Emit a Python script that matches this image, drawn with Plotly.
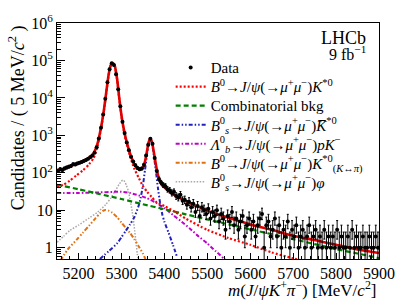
import math
import plotly.graph_objects as go

# ---------------- data ----------------
bin_low = 5150.0
bin_width = 5.0
data_counts = [
    112, 125, 118, 131, 138, 146, 152, 170, 168, 178,
    186, 195, 208, 220, 238, 262, 290, 345, 480, 820,
    1600, 3600, 9500, 26000, 58000, 84000, 76000, 43000, 17000, 6000,
    2300, 1150, 640, 400, 270, 200, 160, 135, 125, 130,
    165, 290, 560, 810, 600, 250, 112, 68, 55, 47,
    44, 36, 34, 29, 31, 24, 22, 26, 18, 19,
    14, 17, 12, 15, 9, 13, 7, 12, 10, 8,
    11, 6, 9, 7, 10, 5, 8, 6, 3, 7,
    5, 9, 4, 6, 3, 5, 7, 2, 4, 6,
    3, 5, 2, 4, 6, 8, 1, 4, 5, 2,
    3, 6, 2, 4, 1, 3, 2, 5, 1, 3,
    2, 4, 1, 2, 3, 1, 2, 4, 1, 2,
    3, 1, 2, 1, 3, 1, 2, 1, 2, 1,
    3, 1, 2, 1, 1, 2, 1, 3, 1, 2,
    1, 1, 2, 1, 1, 2, 1, 1, 2, 1,
]

total_mass = [5150, 5165, 5180, 5195, 5210, 5225, 5235, 5240, 5245, 5250, 5255, 5260, 5265, 5270, 5275,
              5279.5, 5284, 5290, 5295, 5300, 5305, 5310, 5315, 5320, 5325, 5330, 5335, 5340, 5345, 5350,
              5355, 5360, 5363, 5367, 5371, 5375, 5380, 5385, 5390, 5395, 5400, 5410, 5420, 5430, 5450,
              5475, 5500, 5550, 5600, 5650, 5700, 5750, 5800, 5850, 5900]
total_fit = [118, 128, 150, 175, 205, 255, 330, 430, 640, 1150, 2300, 5500, 15000, 40000, 74000,
             85000, 75000, 32000, 10000, 3500, 1600, 850, 520, 330, 230, 170, 140, 125, 125, 135,
             200, 400, 630, 840, 680, 390, 175, 88, 58, 47, 41, 33, 27, 23, 17.5,
             13, 9.8, 6.3, 4.2, 3.0, 2.1, 1.6, 1.2, 0.9, 0.72]

sig_mass = [5150, 5165, 5180, 5195, 5210, 5225, 5235, 5240, 5245, 5250, 5255, 5260, 5265, 5270, 5275,
            5279.5, 5284, 5290, 5295, 5300, 5305, 5310, 5320, 5330, 5340, 5350, 5360, 5370, 5380, 5400,
            5425, 5450, 5500, 5550, 5600, 5650, 5700, 5750]
sig_fit = [42, 48, 62, 85, 115, 170, 245, 340, 550, 1050, 2200, 5200, 14500, 39000, 73000,
           84000, 74000, 31000, 9500, 3300, 1450, 750, 280, 130, 75, 45, 31, 23, 17, 13,
           9, 6, 3, 1.8, 1.2, 0.75, 0.52, 0.38]

comb_mass = [5150, 5200, 5250, 5300, 5350, 5400, 5450, 5500, 5550, 5600, 5650, 5700, 5750, 5800, 5850, 5900]
comb_fit = [48, 36.5, 27, 20, 14.5, 10.7, 7.8, 5.7, 4.2, 3.1, 2.3, 1.7, 1.25, 0.92, 0.7, 0.53]

bs_mass = [5250, 5270, 5290, 5300, 5310, 5320, 5330, 5340, 5345, 5350, 5355, 5360, 5363, 5367, 5371,
           5375, 5380, 5385, 5390, 5395, 5400, 5410, 5420, 5430]
bs_fit = [0.5, 0.8, 1.3, 1.9, 2.8, 4.2, 6.5, 13, 22, 45, 120, 330, 560, 780, 620,
          330, 120, 40, 16, 8, 5, 2.5, 1.2, 0.55]

lb_mass = [5150, 5200, 5250, 5280, 5300, 5320, 5340, 5360, 5380, 5400, 5420, 5440, 5460, 5480, 5500,
           5520, 5540, 5550]
lb_fit = [29, 29, 30, 31, 31, 29, 25, 21, 16, 11.5, 7.5, 5, 3.2, 2.0, 1.3, 0.8, 0.5, 0.4]

kp_mass = [5158, 5175, 5195, 5210, 5225, 5240, 5250, 5258, 5263, 5270, 5278, 5290, 5300, 5310, 5320,
           5330, 5340, 5350, 5356]
kp_fit = [0.45, 0.9, 1.6, 2.5, 3.9, 6.2, 8.3, 9.8, 10.2, 9.8, 8.7, 6.5, 4.7, 3.4, 2.5,
          1.7, 1.1, 0.7, 0.5]

phi_mass = [5150, 5165, 5180, 5200, 5225, 5245, 5263, 5275, 5285, 5295, 5300, 5304, 5308, 5312, 5316,
            5320, 5325, 5328, 5331, 5334, 5337, 5340]
phi_fit = [1.4, 2.0, 2.9, 4.0, 6.2, 9, 14, 21, 32, 50, 60, 64, 58, 45, 33,
           20, 9.5, 5.5, 2.8, 1.4, 0.7, 0.4]

x_range = [5150, 5900]
y_range = [0.5, 1e6]
x_tick_vals = [5200, 5300, 5400, 5500, 5600, 5700, 5800, 5900]
y_tick_vals = [1, 10, 100, 1000, 10000, 100000, 1000000]
y_tick_text = ["1", "10", "10<sup>2</sup>", "10<sup>3</sup>", "10<sup>4</sup>", "10<sup>5</sup>", "10<sup>6</sup>"]

names = {
    "data": "Data",
    "sig": "<i>B</i><sup>0</sup>→<i>J</i>/<i>ψ</i>(→<i>μ</i><sup>+</sup><i>μ</i><sup>−</sup>)<i>K</i><sup>*0</sup>",
    "comb": "Combinatorial bkg",
    "bs": "<i>B</i><sup>0</sup><sub><i>s</i></sub>→<i>J</i>/<i>ψ</i>(→<i>μ</i><sup>+</sup><i>μ</i><sup>−</sup>)<i>K̅</i><sup>*0</sup>",
    "lb": "<i>Λ</i><sup>0</sup><sub><i>b</i></sub>→<i>J</i>/<i>ψ</i>(→<i>μ</i><sup>+</sup><i>μ</i><sup>−</sup>)<i>pK</i><sup>−</sup>",
    "kp": "<i>B</i><sup>0</sup>→<i>J</i>/<i>ψ</i>(→<i>μ</i><sup>+</sup><i>μ</i><sup>−</sup>)<i>K</i><sup>*0</sup><sub>(<i>K</i>↔<i>π</i>)</sub>",
    "phi": "<i>B</i><sup>0</sup><sub><i>s</i></sub>→<i>J</i>/<i>ψ</i>(→<i>μ</i><sup>+</sup><i>μ</i><sup>−</sup>)<i>φ</i>",
}

# ---------------- figure ----------------
FONT = "Liberation Serif, Times New Roman, serif"
data_mass = [bin_low + bin_width * (i + 0.5) for i in range(len(data_counts))]
err_up = [math.sqrt(n + 0.25) + 0.5 for n in data_counts]
err_dn = [math.sqrt(n + 0.25) - 0.5 for n in data_counts]

fig = go.Figure()

def comp(x, y, color, dash, key, legend, width=2.0):
    fig.add_trace(go.Scatter(
        x=x, y=y, mode="lines", name=names[key], legend=legend,
        line=dict(color=color, dash=dash, width=width, shape="spline", smoothing=0.6),
        hoverinfo="skip"))

comp(phi_mass, phi_fit, "#a8a8a8", "1.5px,1.5px", "phi", "legend7", 1.5)
comp(kp_mass, kp_fit, "#e07010", "4px,2px,1.5px,2px,1.5px,2px", "kp", "legend6")
comp(lb_mass, lb_fit, "#c000c8", "4px,2px,1.5px,2px", "lb", "legend5")
comp(bs_mass, bs_fit, "#2020c0", "4px,2px,1.5px,2px,1.5px,2px", "bs", "legend4")
comp(comb_mass, comb_fit, "#008000", "5px,3px", "comb", "legend3", 2.2)
comp(sig_mass, sig_fit, "#ff0000", "2px,2px", "sig", "legend2", 2.2)

fig.add_trace(go.Scatter(
    x=total_mass, y=total_fit, mode="lines", showlegend=False,
    line=dict(color="#e00000", width=2.6, shape="spline", smoothing=0.6), hoverinfo="skip"))

fig.add_trace(go.Scatter(
    x=data_mass, y=data_counts, mode="markers", name=names["data"], legend="legend",
    marker=dict(color="black", size=4),
    error_y=dict(type="data", symmetric=False, array=err_up, arrayminus=err_dn,
                 color="black", thickness=1, width=1),
    hoverinfo="skip"))

# separate one-entry legends, stacked like the original ROOT legend
leg_rows = ["legend", "legend2", "legend3", "legend4", "legend5", "legend6", "legend7"]
leg_common = dict(x=0.353, xanchor="left", yanchor="middle", bgcolor="rgba(0,0,0,0)",
                  font=dict(family=FONT, size=15, color="black"), itemwidth=30,
                  tracegroupgap=0)
leg_y0, leg_dy = 0.810, 0.0806
legend_layout = {}
for k, name in enumerate(leg_rows):
    legend_layout[name] = dict(leg_common, y=leg_y0 - k * leg_dy)

minor_y = [m * 10 ** d for d in range(-1, 6) for m in range(2, 10) if 0.5 <= m * 10 ** d <= 1e6]

fig.update_layout(
    width=407, height=301,
    margin=dict(l=57, r=21, t=17, b=42),
    paper_bgcolor="white", plot_bgcolor="white",
    font=dict(family=FONT, size=16, color="black"),
    **legend_layout,
    xaxis=dict(range=x_range, showgrid=False, zeroline=False, showline=True, linecolor="black",
               linewidth=1, mirror=True, ticks="inside", ticklen=6, tickcolor="black",
               tickvals=x_tick_vals, tickfont=dict(family=FONT, size=16),
               minor=dict(dtick=20, ticks="inside", ticklen=3, tickcolor="black")),
    yaxis=dict(type="log", range=[math.log10(y_range[0]), math.log10(y_range[1])],
               showgrid=False, zeroline=False, showline=True, linecolor="black", linewidth=1,
               mirror=True, ticks="inside", ticklen=8, tickcolor="black",
               tickvals=y_tick_vals, ticktext=y_tick_text, tickfont=dict(family=FONT, size=16),
               minor=dict(tickvals=minor_y, ticks="inside", ticklen=4, tickcolor="black")),
    annotations=[
        dict(text="LHCb", xref="paper", yref="paper", x=0.967, y=0.938, xanchor="right",
             yanchor="middle", showarrow=False, font=dict(family=FONT, size=18)),
        dict(text="9 fb<sup>−1</sup>", xref="paper", yref="paper", x=0.967, y=0.872,
             xanchor="right", yanchor="middle", showarrow=False, font=dict(family=FONT, size=16)),
        dict(text="<i>m</i>(<i>J</i>/<i>ψK</i><sup>+</sup><i>π</i><sup>−</sup>) [MeV/<i>c</i><sup>2</sup>]",
             xref="paper", yref="paper", x=1.0, y=-0.128, xanchor="right", yanchor="middle",
             showarrow=False, font=dict(family=FONT, size=17)),
        dict(text="Candidates / ( 5 MeV/<i>c</i><sup>2</sup> )", xref="paper", yref="paper",
             x=-0.125, y=1.0, xanchor="center", yanchor="top", textangle=-90,
             showarrow=False, font=dict(family=FONT, size=18)),
    ],
)

fig.write_html("out.html", config={"displayModeBar": False},
               post_script="document.body.style.margin='0px';")
